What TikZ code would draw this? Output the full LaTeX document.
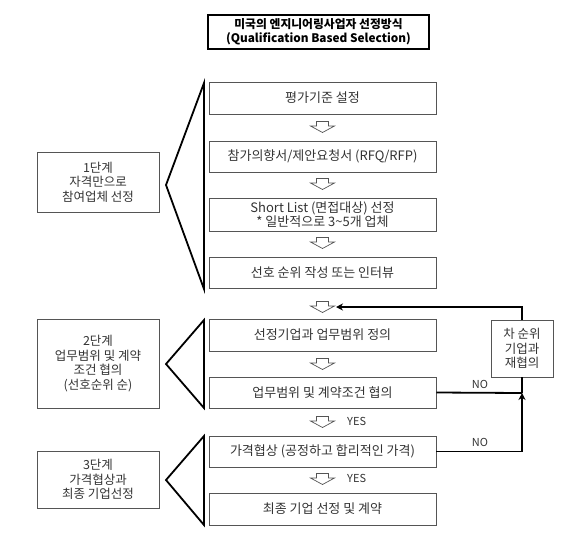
\documentclass[tikz,border=0pt]{standalone}
\usepackage{fontspec}
\setmainfont{Noto Sans CJK KR}
\usetikzlibrary{arrows.meta}
\definecolor{txt}{HTML}{333333}
\definecolor{bord}{HTML}{555555}
\begin{document}
\begin{tikzpicture}[x=1pt,y=-1pt,
  box/.style={draw=bord,line width=0.8pt,minimum width=227pt,minimum height=32pt,align=center,text=txt,font=\fontsize{13}{14.5}\selectfont,inner sep=1pt},
  sidebox/.style={draw=bord,line width=0.8pt,minimum width=122pt,align=center,text=txt,font=\fontsize{12.5}{14.5}\selectfont,inner sep=1pt},
  brk/.style={line width=1.8pt,line join=miter},
  fb/.style={line width=1.8pt,-{Stealth[length=7pt,width=7pt]}},
  fbl/.style={line width=1.8pt},
  lab/.style={text=txt,font=\fontsize{11}{12}\selectfont,inner sep=1pt},
  hollow/.pic={\draw[draw=bord,fill=white,line width=0.7pt,line join=miter] (-6,-5.5) -- (6,-5.5) -- (6,-1) -- (12,-1) -- (0,5.5) -- (-12,-1) -- (-6,-1) -- cycle;}
]
\useasboundingbox (0,0) rectangle (580,546);
% title
\node[draw=black,line width=1.8pt,minimum width=221pt,minimum height=34pt,align=center,font=\bfseries\fontsize{11.8}{13.5}\selectfont,inner sep=1pt] (title) at (318.5,32) {미국의 엔지니어링사업자 선정방식\\(Qualification Based Selection)};
% main boxes
\node[box] (b1) at (322.5,98) {평가기준 설정};
\node[box,minimum height=31pt] (b2) at (322.5,156.5) {참가의향서/제안요청서 (RFQ/RFP)};
\node[box,minimum height=33pt] (b3) at (322.5,214.5) {Short List (면접대상) 선정\\* 일반적으로 3\textasciitilde 5개 업체};
\node[box,minimum height=31pt] (b4) at (322.5,272.5) {선호 순위 작성 또는 인터뷰};
\node[box] (b5) at (322.5,335) {선정기업과 업무범위 정의};
\node[box,minimum height=31pt] (b6) at (322.5,392.5) {업무범위 및 계약조건 협의};
\node[box,minimum height=31pt] (b7) at (322.5,451.5) {가격협상 (공정하고 합리적인 가격)};
\node[box] (b8) at (322.5,509) {최종 기업 선정 및 계약};
% hollow arrows
\pic (a1) at (322.5,127) {hollow};
\pic (a2) at (322.5,184) {hollow};
\pic (a3) at (322.5,243) {hollow};
\pic (a4) at (322.5,307) {hollow};
\pic (a5) at (322.5,364) {hollow};
\pic (a6) at (322.5,422) {hollow};
\pic (a7) at (322.5,479) {hollow};
\node[lab,anchor=west] (yes1) at (346,421) {YES};
\node[lab,anchor=west] (yes2) at (346,478) {YES};
% side boxes
\node[sidebox,minimum height=60pt] (s1) at (98,182) {1단계\\자격만으로\\참여업체 선정};
\node[sidebox,minimum height=89pt] (s2) at (98,363.5) {2단계\\업무범위 및 계약\\조건 협의\\(선호순위 순)};
\node[sidebox,minimum height=57pt] (s3) at (98,479.5) {3단계\\가격협상과\\최종 기업선정};
% brackets
\coordinate (t1a) at (166,185); \coordinate (t1t) at (204,83); \coordinate (t1b) at (204,289);
\coordinate (t2a) at (166,364); \coordinate (t2t) at (204,320); \coordinate (t2b) at (204,408);
\coordinate (t3a) at (166,480); \coordinate (t3t) at (204,436); \coordinate (t3b) at (204,525);
\draw[brk] (t1t) -- (t1a) -- (t1b) -- cycle;
\draw[brk] (t2t) -- (t2a) -- (t2b) -- cycle;
\draw[brk] (t3t) -- (t3a) -- (t3b) -- cycle;
% feedback
\node[sidebox,minimum width=62pt,minimum height=57pt] (r) at (522,348.5) {차 순위\\기업과\\재협의};
\coordinate (jn) at (522,393);
\coordinate (a4r) at (336,307);
\draw[fbl] (b6.east) -- (jn);
\draw[fbl] (r.south) -- (jn);
\draw[fb] (b7.east) -| (jn);
\draw[fb] (r.north) |- (a4r);
\node[lab] (no1) at (480,384) {NO};
\node[lab] (no2) at (480,442) {NO};
\end{tikzpicture}
\end{document}
